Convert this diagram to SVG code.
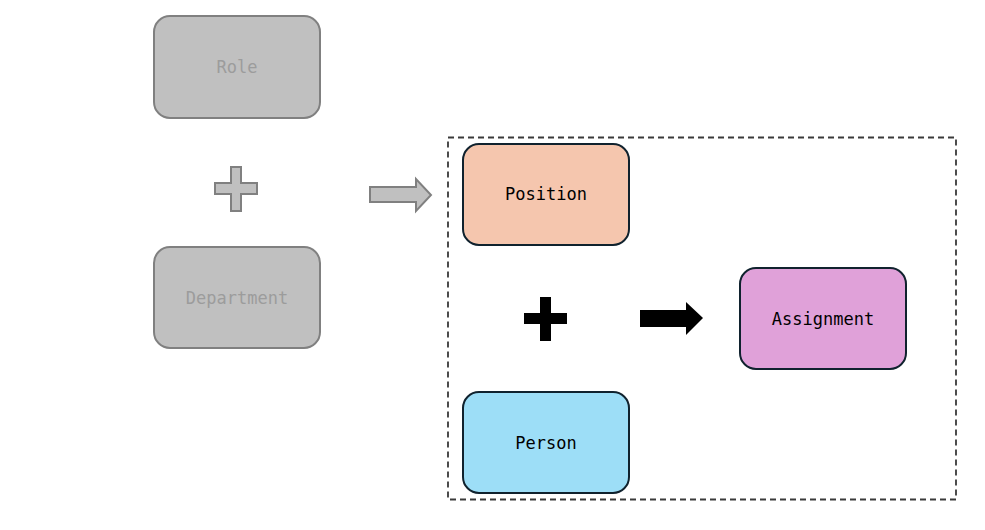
<svg xmlns="http://www.w3.org/2000/svg" width="985" height="530" viewBox="0 0 985 530">
<style>
.lbl{font-family:"DejaVu Sans Mono","Liberation Mono",monospace;font-size:17px;text-anchor:middle;dominant-baseline:central}
.gray rect{fill:#c0c0c0;stroke:#808080;stroke-width:2}
.gray text{fill:#9c9c9c}
.node rect{stroke:#10222e;stroke-width:2}
.node text{fill:#000}
</style>
<rect width="985" height="530" fill="#fff"/>
<g id="role" class="gray"><rect x="154" y="16" width="166" height="102" rx="16"/><text class="lbl" x="237" y="67">Role</text></g>
<g id="department" class="gray"><rect x="154" y="247" width="166" height="101" rx="16"/><text class="lbl" x="237" y="298">Department</text></g>
<g id="container"><rect x="448" y="137.5" width="508" height="362" fill="none" stroke="#3a3a3a" stroke-width="1.8" stroke-dasharray="6,4"/></g>
<g id="position" class="node"><rect x="463" y="144" width="166" height="101" rx="16" fill="#f5c6ae"/><text class="lbl" x="546" y="194">Position</text></g>
<g id="person" class="node"><rect x="463" y="392" width="166" height="101" rx="16" fill="#9ddef7"/><text class="lbl" x="546" y="443">Person</text></g>
<g id="assignment" class="node"><rect x="740" y="268" width="166" height="101" rx="16" fill="#e0a1d9"/><text class="lbl" x="823" y="319">Assignment</text></g>
<g id="connectors">
<polygon points="231,167 241,167 241,183 257,183 257,194 241,194 241,211 231,211 231,194 215,194 215,183 231,183" fill="#c0c0c0" stroke="#808080" stroke-width="2"/>
<polygon points="370,187 416,187 416,179 431,195 416,211 416,202 370,202" fill="#c0c0c0" stroke="#808080" stroke-width="2"/>
<polygon points="540,297 551,297 551,313 567,313 567,324 551,324 551,341 540,341 540,324 524,324 524,313 540,313" fill="#000"/>
<polygon points="640,310 686,310 686,302 703,318 686,335 686,327 640,327" fill="#000"/>
</g>
</svg>
